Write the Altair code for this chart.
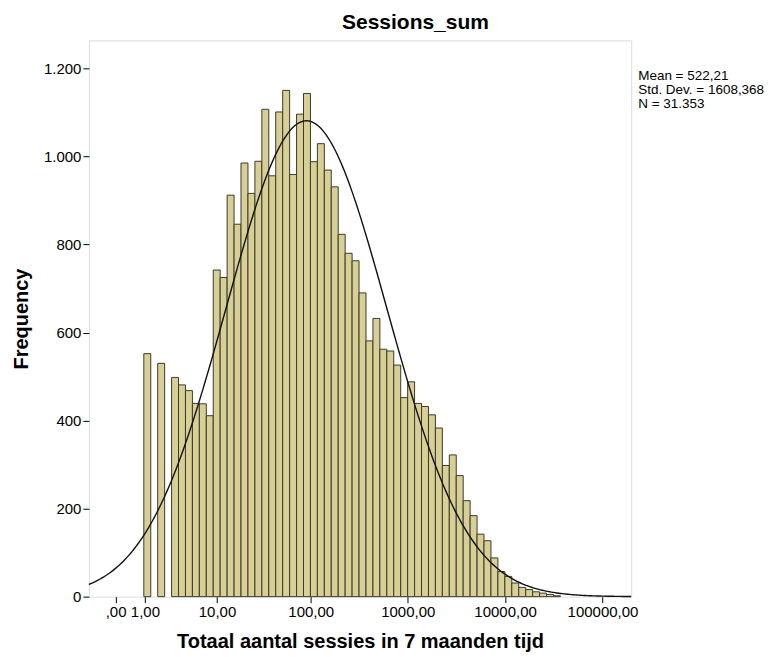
import math
import altair as alt
import pandas as pd
import numpy as np

# ---------------- data ----------------
# histogram of log10(Sessions_sum + 1); bins of equal width in that space
bin_start = 0.290
bin_width = 0.0713
counts = [552, 0, 530, 0, 498, 481, 468, 439, 438, 411,
          742, 725, 912, 846, 985, 916, 989, 1107, 956, 1101,
          1150, 959, 1096, 1143, 988, 1029, 969, 931, 823, 780,
          763, 690, 581, 632, 562, 558, 526, 452, 488, 439,
          432, 413, 383, 298, 322, 275, 218, 184, 142, 127,
          88, 57, 46, 31, 21, 16, 11, 8, 5, 2]

# fitted normal curve (in log space)
curve_mean = 1.96
curve_sd = 0.825
n_total = 31353

tick_values = [0, 1, 10, 100, 1000, 10000, 100000]
tick_labels = [",00", "1,00", "10,00", "100,00", "1000,00", "10000,00", "100000,00"]
y_ticks = [0, 200, 400, 600, 800, 1000, 1200]

chart_title = "Sessions_sum"
stats_lines = ["Mean = 522,21", "Std. Dev. = 1608,368", "N = 31.353"]

x_domain = [-0.274, 5.295]
y_domain = [0, 1263.6]

FONT = "Liberation Sans"

# ---------------- build tables ----------------
bars = pd.DataFrame({
    "x": [bin_start + i * bin_width for i in range(len(counts))],
    "x2": [bin_start + (i + 1) * bin_width for i in range(len(counts))],
    "count": counts,
})
bars = bars[bars["count"] > 0]

u = np.linspace(x_domain[0], x_domain[1], 300)
scale = n_total * bin_width / (curve_sd * math.sqrt(2 * math.pi))
curve = pd.DataFrame({
    "u": u,
    "f": scale * np.exp(-((u - curve_mean) ** 2) / (2 * curve_sd ** 2)),
})

tick_pos = [math.log10(v + 1) for v in tick_values]
label_expr = "''"
for p, lab in reversed(list(zip(tick_pos, tick_labels))):
    label_expr = f"abs(datum.value - {p}) < 0.01 ? '{lab}' : ({label_expr})"

xscale = alt.Scale(domain=x_domain, nice=False, zero=False)
yscale = alt.Scale(domain=y_domain, nice=False)

xaxis = alt.Axis(values=tick_pos, labelExpr=label_expr, grid=False, domain=False,
                 ticks=True, tickSize=6, tickColor="#000", labelColor="#000",
                 labelFont=FONT, labelFontSize=15, labelPadding=2,
                 title="Totaal aantal sessies in 7 maanden tijd",
                 titleFont=FONT, titleFontSize=20, titleFontWeight="bold",
                 titleColor="#000", titlePadding=12)
yaxis = alt.Axis(values=y_ticks, labelExpr="replace(format(datum.value, ','), ',', '.')",
                 grid=False, domain=False, ticks=True, tickSize=6, tickColor="#000",
                 labelColor="#000", labelFont=FONT, labelFontSize=15, labelPadding=2,
                 title="Frequency", titleFont=FONT, titleFontSize=20,
                 titleFontWeight="bold", titleColor="#000", titlePadding=12)

bar_layer = alt.Chart(bars).mark_rect(
    fill="#D8CF94", stroke="#3a3a30", strokeWidth=1
).encode(
    x=alt.X("x:Q", scale=xscale, axis=xaxis),
    x2="x2:Q",
    y=alt.Y("count:Q", scale=yscale, axis=yaxis),
    y2=alt.datum(0),
)

curve_layer = alt.Chart(curve).mark_line(color="#111", strokeWidth=1.4).encode(
    x=alt.X("u:Q", scale=xscale),
    y=alt.Y("f:Q", scale=yscale),
)

stats = pd.DataFrame({"t": ["\n".join(stats_lines)]})
stats_layer = alt.Chart(stats).mark_text(
    align="left", baseline="top", font=FONT, fontSize=13.5, lineHeight=14,
    lineBreak="\n", color="#000"
).encode(
    text="t:N",
    x=alt.value(550),
    y=alt.value(29),
)

title_df = pd.DataFrame({"t": [chart_title]})
title_layer = alt.Chart(title_df).mark_text(
    align="center", baseline="alphabetic", font=FONT, fontSize=21,
    fontWeight="bold", color="#000"
).encode(
    text="t:N",
    x=alt.value(327),
    y=alt.value(-11),
)

chart = alt.layer(bar_layer, curve_layer, stats_layer, title_layer).properties(
    width=543, height=557,
    padding={"left": 81, "top": 32, "right": 140, "bottom": 55},
    autosize=alt.AutoSizeParams(type="none"),
).configure_view(
    fill="#F6F1F6", stroke="#2a2a2a", strokeWidth=1
).configure(background="#ffffff")

chart.save("out.html", embed_options={"renderer": "svg", "actions": False})
